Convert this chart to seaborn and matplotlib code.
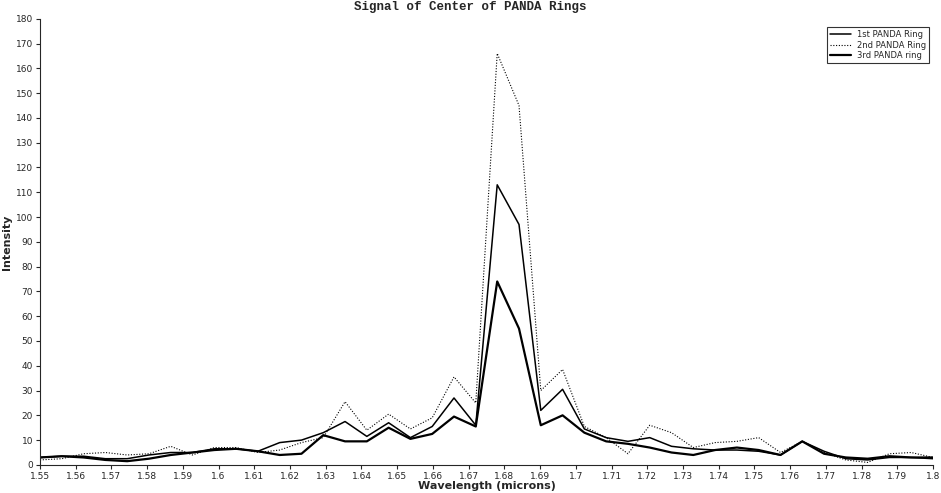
import matplotlib
matplotlib.use("Agg")
import matplotlib.pyplot as plt
import numpy as np
import pandas as pd
import seaborn as sns

# wavelength samples (microns)
wavelength = [1.5500, 1.5561, 1.5622, 1.5683, 1.5744, 1.5805, 1.5866, 1.5927,
              1.5988, 1.6049, 1.6110, 1.6171, 1.6232, 1.6293, 1.6354, 1.6415,
              1.6476, 1.6537, 1.6598, 1.6659, 1.6720, 1.6780, 1.6841, 1.6902,
              1.6963, 1.7024, 1.7085, 1.7146, 1.7207, 1.7268, 1.7329, 1.7390,
              1.7451, 1.7512, 1.7573, 1.7634, 1.7695, 1.7756, 1.7817, 1.7878,
              1.7939, 1.8000]

ring1 = [3, 3.5, 3.5, 2.5, 2.5, 4, 5, 5, 6.5, 6.5, 5.5, 9, 10, 13, 17.5, 11.5,
         17, 11, 15.5, 27, 16, 113, 97, 22, 30.5, 14.5, 11, 9.5, 11, 7.5, 6.5,
         6, 6, 5.5, 4, 9.5, 5.5, 2.5, 2, 3, 3, 2.5]
ring2 = [2, 2.5, 4.5, 5, 4, 4.5, 7.5, 4, 7, 7, 5, 6, 9, 11, 25.5, 14,
         20.5, 14.5, 19, 35.5, 25, 166, 145, 30, 38.5, 15.5, 11, 4.5, 16, 13, 7,
         9, 9.5, 11, 5, 9.5, 5, 2, 1, 4.5, 5, 3]
ring3 = [3, 3.5, 3, 2, 1.5, 2.5, 4, 5, 6, 6.5, 5.5, 4, 4.5, 12, 9.5, 9.5,
         15, 10.5, 12.5, 19.5, 15.5, 74, 55, 16, 20, 13, 9.5, 8.5, 7, 5, 4,
         6, 7, 6, 4, 9.5, 4.5, 3, 2.5, 3.5, 3, 3]

ring_names = ["1st PANDA Ring", "2nd PANDA Ring", "3rd PANDA ring"]

x_ticks = [1.55, 1.56, 1.57, 1.58, 1.59, 1.6, 1.61, 1.62, 1.63, 1.64, 1.65,
           1.66, 1.67, 1.68, 1.69, 1.7, 1.71, 1.72, 1.73, 1.74, 1.75, 1.76,
           1.77, 1.78, 1.79, 1.8]
y_ticks = [0, 10, 20, 30, 40, 50, 60, 70, 80, 90, 100, 110, 120, 130, 140,
           150, 160, 170, 180]


def main():
    sns.set_style("ticks")
    plt.rcParams["font.family"] = ["DejaVu Sans"]

    fig = plt.figure(figsize=(9.41, 4.93), dpi=100)
    ax = fig.add_axes([0.0425, 0.057, 0.949, 0.905])

    df = pd.DataFrame({"Wavelength": wavelength * 3,
                       "Intensity": ring1 + ring2 + ring3,
                       "Ring": [ring_names[0]] * len(ring1)
                               + [ring_names[1]] * len(ring2)
                               + [ring_names[2]] * len(ring3)})

    styles = [(1.1, "-"), (0.8, (0, (1, 1.5))), (1.6, "-")]
    for name, (lw, ls) in zip(ring_names, styles):
        sub = df[df["Ring"] == name]
        sns.lineplot(data=sub, x="Wavelength", y="Intensity", ax=ax,
                     color="black", linewidth=lw, linestyle=ls, label=name)

    ax.set_xlim(1.55, 1.80)
    ax.set_ylim(0, 180)
    ax.set_xticks(x_ticks)
    ax.set_xticklabels([f"{t:g}" for t in x_ticks])
    ax.set_yticks(y_ticks)
    ax.tick_params(labelsize=6.5, length=3, pad=2)
    sns.despine(ax=ax)

    ax.set_xlabel("Wavelength (microns)", fontsize=8, fontweight="bold", labelpad=0)
    ax.set_ylabel("Intensity", fontsize=8, fontweight="bold", labelpad=3)
    fig.suptitle("Signal of Center of PANDA Rings", x=0.5, y=0.997,
                 fontsize=9, fontweight="bold", family="Liberation Mono")

    leg = ax.legend(loc="upper right", fontsize=6, frameon=True, fancybox=False,
                    edgecolor="black", handlelength=2.5, borderpad=0.3,
                    labelspacing=0.2, bbox_to_anchor=(1.0, 0.99))
    leg.get_frame().set_linewidth(0.8)

    fig.savefig("out.png", dpi=100)


if __name__ == "__main__":
    main()
